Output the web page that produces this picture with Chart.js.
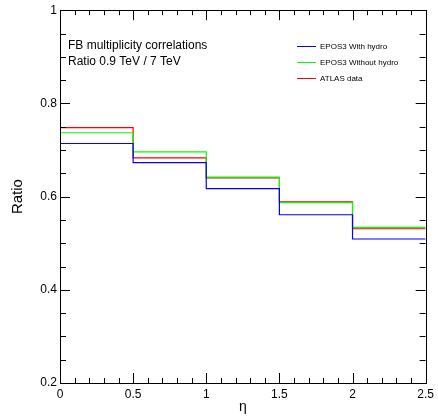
<!DOCTYPE html>
<html>
<head>
<meta charset="utf-8">
<script src="https://cdn.jsdelivr.net/npm/chart.js@4.4.1/dist/chart.umd.min.js"></script>
<style>
  html, body { margin: 0; padding: 0; background: #fff; }
  #wrap { width: 438px; height: 416px; position: relative; }
</style>
</head>
<body>
<div id="wrap"><canvas id="fbChart"></canvas></div>
<script>
// --- data ---
const binEdges = [0, 0.5, 1, 1.5, 2, 2.5];
const withHydro = [0.714, 0.673, 0.617, 0.561, 0.509];
const withoutHydro = [0.737, 0.696, 0.642, 0.587, 0.534];
const atlasData = [0.748, 0.683, 0.640, 0.589, 0.531];
const seriesLabels = ['EPOS3 With hydro', 'EPOS3 Without hydro', 'ATLAS data'];
const seriesColors = ['#0000ff', '#00ff00', '#ff0000'];
const textLines = ['FB multiplicity correlations', 'Ratio 0.9 TeV / 7 TeV'];

// histogram -> step points: bin value on its left edge,
// last value repeated on the closing edge
function toSteps(vals) {
    return binEdges.map((x, i) => ({ x: x, y: vals[Math.min(i, vals.length - 1)] }));
}

const FONT = "'Liberation Sans', Helvetica, Arial, sans-serif";
const fmt = v => String(parseFloat(Number(v).toFixed(2)));

// ROOT-like frame with inward ticks on all four sides, plus legend and text
const rootFrame = {
    id: 'rootFrame',
    afterDatasetsDraw(chart) {
        const { ctx, chartArea: a, scales } = chart;
        const xs = scales.x, ys = scales.y;
        ctx.save();
        ctx.strokeStyle = '#000';
        ctx.lineWidth = 1;
        ctx.beginPath();
        // x ticks (bottom and top)
        for (let k = 0; k <= 25; k++) {
            const px = Math.round(xs.getPixelForValue(k / 10)) + 0.5;
            const len = (k % 5 === 0) ? 10 : 5;
            ctx.moveTo(px, a.bottom); ctx.lineTo(px, a.bottom - len);
            ctx.moveTo(px, a.top); ctx.lineTo(px, a.top + len);
        }
        // y ticks (left and right)
        for (let k = 4; k <= 20; k++) {
            const py = Math.round(ys.getPixelForValue(k / 20)) + 0.5;
            const len = (k % 4 === 0) ? 10 : 6;
            ctx.moveTo(a.left, py); ctx.lineTo(a.left + len, py);
            ctx.moveTo(a.right, py); ctx.lineTo(a.right - len, py);
        }
        ctx.stroke();
        ctx.strokeRect(Math.round(a.left) + 0.5, Math.round(a.top) + 0.5,
            Math.round(a.right - a.left), Math.round(a.bottom - a.top));

        // text box
        ctx.fillStyle = '#000';
        ctx.font = '12px ' + FONT;
        ctx.textBaseline = 'middle';
        ctx.textAlign = 'left';
        textLines.forEach((t, i) => ctx.fillText(t, 68, 46 + i * 16));

        // legend
        ctx.font = '8px ' + FONT;
        chart.data.datasets.forEach((ds, i) => {
            const y = 46.5 + i * 16;
            ctx.strokeStyle = ds.borderColor;
            ctx.beginPath();
            ctx.moveTo(297, y); ctx.lineTo(316, y);
            ctx.stroke();
            ctx.fillStyle = '#000';
            ctx.fillText(ds.label, 320, y);
        });
        ctx.restore();
    }
};

const datasets = [withHydro, withoutHydro, atlasData].map((vals, i) => ({
    label: seriesLabels[i],
    data: toSteps(vals),
    borderColor: seriesColors[i],
    borderWidth: 1.2,
    stepped: 'before',
    pointRadius: 0,
    fill: false
}));

new Chart(document.getElementById('fbChart'), {
    type: 'line',
    data: { datasets: datasets },
    options: {
        responsive: true,
        maintainAspectRatio: false,
        animation: false,
        layout: { padding: { top: 8, right: 9, left: 0, bottom: 0 } },
        plugins: { legend: { display: false }, tooltip: { enabled: false } },
        scales: {
            x: {
                type: 'linear',
                min: 0, max: 2.5,
                grid: { display: false, drawTicks: false },
                border: { display: false },
                ticks: { stepSize: 0.5, padding: 4, color: '#000', font: { family: FONT, size: 12 }, maxRotation: 0, callback: fmt },
                title: { display: true, text: 'η', color: '#000', font: { family: FONT, size: 14 }, padding: { top: 0, bottom: 0 } },
                afterFit(scale) { scale.height = 33; }
            },
            y: {
                min: 0.2, max: 1,
                grid: { display: false, drawTicks: false },
                border: { display: false },
                ticks: { stepSize: 0.2, padding: 3, color: '#000', font: { family: FONT, size: 12 }, callback: fmt },
                title: { display: true, text: 'Ratio', color: '#000', font: { family: FONT, size: 15 }, padding: { top: 9, bottom: 0 } },
                afterFit(scale) { scale.width = 60; }
            }
        }
    },
    plugins: [rootFrame]
});
</script>
</body>
</html>
